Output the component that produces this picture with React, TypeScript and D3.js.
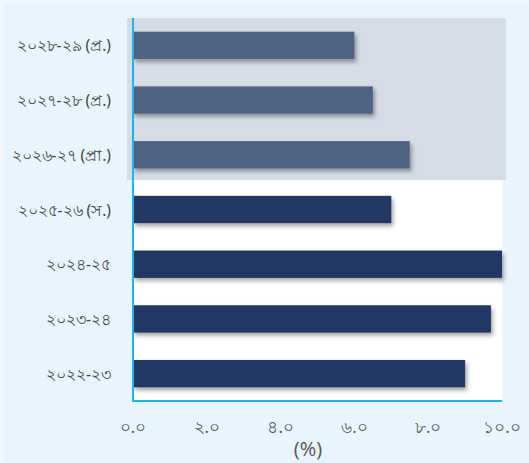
import React from "react";
import * as d3 from "d3";

const categories = [
  "২০২৮-২৯ (প্র.)",
  "২০২৭-২৮ (প্র.)",
  "২০২৬-২৭ (প্রা.)",
  "২০২৫-২৬ (স.)",
  "২০২৪-২৫",
  "২০২৩-২৪",
  "২০২২-২৩",
];
const values = [6.0, 6.5, 7.5, 7.0, 10.0, 9.7, 9.0];
const projected = [true, true, true, false, false, false, false];
const xTicks = [0, 2, 4, 6, 8, 10];
const xTickLabels = ["০.০", "২.০", "৪.০", "৬.০", "৮.০", "১০.০"];
const axisTitle = "(%)";

const W = 529;
const H = 463;
const left = 133;
const right = 502;
const top = 18;
const bottom = 401;

export default function App() {
  const x = d3.scaleLinear().domain([0, 10]).range([left, right]);
  const y = d3
    .scaleBand<string>()
    .domain(categories)
    .range([top, bottom])
    .paddingInner(0.5)
    .paddingOuter(0.25);

  const projCats = categories.filter((_, i) => projected[i]);
  const shadeTop = top;
  const lastProj = projCats[projCats.length - 1];
  const shadeBottom = (y(lastProj) as number) + y.bandwidth() + (y.step() * 0.5) / 2 - 2;

  const font = "'Noto Sans', 'DejaVu Sans', sans-serif";

  return (
    <svg
      width={W}
      height={H}
      style={{ position: "absolute", left: 0, top: 0, display: "block" }}
    >
      <defs>
        <filter id="sh" x="-5%" y="-30%" width="115%" height="180%">
          <feDropShadow dx="2" dy="3" stdDeviation="2" floodColor="#000" floodOpacity="0.35" />
        </filter>
      </defs>
      <rect x={0} y={0} width={W} height={H} fill="#f2f9fe" />
      <rect x={4} y={3} width={W - 4} height={H - 3} fill="#e9f5fe" />
      <rect x={left} y={top} width={right - left} height={bottom - top} fill="#ffffff" />
      <rect
        x={127}
        y={shadeTop}
        width={506 - 127}
        height={shadeBottom - shadeTop}
        fill="#d5dce6"
      />
      {categories.map((c, i) => (
        <rect
          key={c}
          x={x(0)}
          y={y(c)}
          width={x(values[i]) - x(0)}
          height={y.bandwidth()}
          fill={projected[i] ? "#4f6284" : "#213862"}
          filter="url(#sh)"
        />
      ))}
      <line x1={left} x2={left} y1={top} y2={bottom} stroke="#1fb2ef" strokeWidth={2} />
      <line x1={left - 1} x2={right} y1={bottom} y2={bottom} stroke="#1fb2ef" strokeWidth={2} />
      {categories.map((c) => (
        <text
          key={c}
          x={111}
          y={(y(c) as number) + y.bandwidth() / 2}
          textAnchor="end"
          dominantBaseline="central"
          fontFamily={font}
          fontSize={15.5}
          fill="#444"
        >
          {c}
        </text>
      ))}
      {xTicks.map((t, i) => (
        <text
          key={t}
          x={x(t)}
          y={426}
          textAnchor="middle"
          dominantBaseline="central"
          fontFamily={font}
          fontSize={16.5}
          fill="#555"
        >
          {xTickLabels[i]}
        </text>
      ))}
      <text
        x={308}
        y={448}
        textAnchor="middle"
        dominantBaseline="central"
        fontFamily="'Open Sans', 'Noto Sans', sans-serif"
        fontSize={20}
        fontWeight={400}
        fill="#555"
      >
        {axisTitle}
      </text>
    </svg>
  );
}
